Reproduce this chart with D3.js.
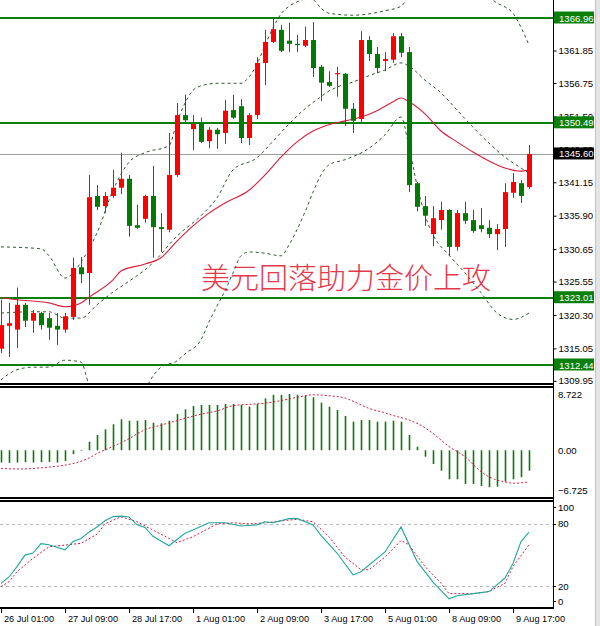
<!DOCTYPE html>
<html>
<head>
<meta charset="utf-8">
<script src="https://cdn.jsdelivr.net/npm/d3@7"></script>
<style>
  body { margin: 0; background: #fff; }
  svg { display: block; }
  text { font-family: "Liberation Sans", Arial, sans-serif; }
</style>
</head>
<body>
<div id="chart"></div>
<script>
// ---- data (4H gold, 26 Jul - 9 Aug) ----
var opens  = [1315.0,1318.6,1318.0,1321.9,1319.4,1320.6,1319.8,1318.6,1318.0,1320.0,1327.8,1326.9,1339.0,1337.4,1339.0,1340.3,1341.7,1334.4,1335.4,1339.0,1334.1,1333.7,1342.3,1351.7,1349.5,1350.5,1347.6,1349.4,1348.9,1352.5,1353.1,1348.1,1351.7,1359.9,1363.2,1365.1,1363.4,1362.9,1362.6,1363.5,1359.3,1356.9,1358.2,1358.2,1352.7,1351.1,1363.5,1361.3,1360.2,1360.4,1364.1,1361.6,1341.0,1337.4,1333.0,1335.2,1336.8,1331.0,1336.3,1335.2,1334.4,1334.0,1333.0,1333.8,1339.5,1341.0,1340.4];
var highs  = [1322.7,1322.2,1324.6,1322.2,1321.1,1320.8,1320.6,1320.6,1320.6,1329.3,1329.4,1342.3,1340.7,1339.6,1343.1,1345.8,1342.3,1337.6,1339.2,1343.7,1336.3,1348.9,1353.6,1354.9,1351.7,1351.3,1349.8,1349.7,1354.1,1354.9,1354.2,1352.0,1360.8,1365.1,1367.1,1365.9,1366.2,1364.3,1365.6,1366.3,1359.6,1358.6,1359.3,1358.3,1353.6,1364.9,1364.1,1362.4,1361.6,1364.6,1364.6,1362.4,1341.2,1339.0,1337.4,1338.1,1336.9,1336.8,1338.1,1336.8,1337.1,1335.2,1334.6,1341.0,1342.6,1341.5,1347.0];
var lows   = [1314.3,1313.7,1315.1,1318.4,1317.5,1318.0,1316.4,1315.6,1317.5,1319.5,1325.3,1321.9,1336.8,1336.3,1338.7,1339.3,1332.6,1333.8,1334.8,1329.3,1330.2,1333.3,1342.0,1350.5,1346.2,1347.3,1346.5,1346.4,1347.2,1351.1,1347.3,1347.0,1351.1,1356.4,1363.0,1361.6,1361.6,1361.6,1362.4,1357.7,1353.9,1356.1,1354.6,1350.0,1348.9,1350.6,1360.2,1358.3,1358.6,1359.9,1360.8,1339.6,1336.6,1334.3,1331.1,1333.7,1329.6,1330.4,1334.6,1333.2,1333.3,1332.4,1330.5,1331.0,1338.7,1337.9,1340.1];
var closes = [1318.7,1319.0,1321.9,1319.4,1320.6,1318.7,1318.3,1318.0,1320.1,1327.7,1326.7,1338.8,1337.3,1339.0,1340.3,1341.7,1334.3,1334.0,1339.0,1334.1,1333.8,1342.3,1351.7,1350.9,1350.3,1347.5,1349.4,1348.7,1352.4,1351.3,1348.1,1351.7,1359.9,1363.2,1365.2,1361.8,1362.9,1362.7,1363.5,1359.1,1356.8,1356.3,1358.3,1352.7,1350.8,1363.5,1361.3,1359.1,1360.5,1364.1,1361.5,1340.7,1337.3,1335.9,1335.5,1336.8,1331.0,1336.3,1335.1,1333.5,1333.8,1333.0,1333.8,1339.6,1341.2,1339.0,1345.6];

// band lines, [bar index, price]
var upperBand = [[0,1331.0],[5,1330.7],[6,1329.6],[8,1326.1],[9,1326.9],[10,1328.6],[11,1330.7],[12,1333.2],[14,1339.9],[16,1344.3],[18,1345.8],[21,1346.9],[22,1350.6],[23,1353.6],[24,1355.6],[25,1356.3],[27,1356.7],[30,1356.7],[31,1357.7],[32,1359.7],[33,1362.7],[34,1365.4],[35,1367.6],[36,1368.8],[37,1369.5],[38,1369.9],[39,1369.8],[40,1368.5],[41,1367.7],[44,1367.4],[48,1368.1],[50,1368.8],[51,1370.3],[53,1372.5],[56,1373.5],[59,1372.0],[61,1370.3],[62,1369.3],[63,1368.7],[64,1367.7],[65,1365.5],[66,1362.7]];
var innerLine = [[0,1320.6],[4,1320.8],[6,1320.8],[8,1319.8],[10,1319.8],[12,1321.9],[14,1323.9],[16,1325.6],[18,1327.4],[19,1328.5],[22,1332.7],[25,1335.9],[27,1338.7],[29,1343.1],[32,1345.0],[34,1347.6],[36,1350.3],[38,1352.7],[40,1354.6],[41,1355.5],[42,1356.1],[44,1356.9],[46,1357.9],[48,1358.8],[50,1359.9],[51,1359.4],[53,1357.2],[55,1355.2],[57,1352.5],[59,1349.8],[61,1347.3],[63,1345.1],[65,1343.4],[66,1342.6]];
var maLine = [[0,1323.0],[2,1322.7],[6,1322.2],[8,1321.6],[10,1322.2],[11,1323.1],[14,1325.8],[15,1327.2],[18,1328.3],[20,1329.3],[22,1331.9],[24,1334.3],[26,1336.3],[28,1337.9],[31,1339.9],[33,1342.3],[35,1345.1],[37,1347.5],[39,1349.2],[41,1350.2],[43,1350.8],[45,1351.4],[47,1352.4],[49,1353.8],[50,1354.4],[51,1353.8],[53,1351.9],[55,1349.2],[57,1347.5],[59,1345.9],[61,1344.5],[63,1343.4],[65,1342.9],[66,1343.1]];
var lowerBand = [[0,1310.1],[2,1311.7],[4,1312.1],[6,1312.1],[8,1313.2],[10,1312.9],[11,1309.3],[13,1305.5],[16,1305.0],[18,1308.5],[19,1310.7],[20,1312.1],[22,1313.1],[23,1314.2],[25,1316.4],[26,1319.2],[27,1321.7],[28,1324.1],[29,1326.9],[30,1329.6],[31,1330.2],[33,1330.0],[35,1329.6],[36,1331.3],[37,1333.7],[38,1336.5],[39,1339.6],[40,1342.3],[41,1343.9],[43,1344.7],[46,1346.5],[48,1348.6],[50,1351.4],[51,1346.7],[52,1340.7],[53,1336.0],[54,1332.9],[56,1329.7],[58,1326.9],[60,1323.8],[62,1320.6],[64,1319.6],[66,1320.6]];

var levelLines = [1366.96, 1350.49, 1323.01, 1312.44];
var lastPrice = 1345.60;
var priceTicks = [1361.85, 1356.75, 1351.50, 1346.35, 1341.15, 1335.90, 1330.65, 1325.55, 1320.30, 1315.05, 1309.95];

var macdHist = [-1.9,-1.95,-1.9,-1.85,-1.9,-1.85,-1.8,-1.9,-1.65,-0.6,-0.1,1.33,2.37,3.25,4.03,4.80,4.59,4.59,4.69,4.28,4.18,4.59,5.62,6.35,6.86,7.02,7.02,7.02,7.17,7.17,7.02,6.76,7.17,8.05,8.6,8.6,8.72,8.6,8.41,8.21,7.38,6.76,6.24,5.31,4.44,4.69,4.69,4.44,4.44,4.59,4.44,2.37,0.57,-0.99,-2.12,-3.16,-4.50,-4.50,-5.22,-5.22,-5.53,-5.73,-5.63,-4.86,-4.50,-4.18,-3.16];
var macdSignal = [[0,-2.8],[2,-2.9],[6,-2.6],[8,-2.3],[11,-1.2],[12,-0.5],[14,0.6],[16,1.8],[18,3.2],[20,3.9],[22,4.6],[25,5.6],[27,6.1],[29,6.9],[32,7.2],[33,7.3],[35,7.7],[37,8.2],[39,8.6],[41,8.45],[43,8.1],[44,7.6],[46,6.5],[48,5.8],[49,5.4],[51,4.7],[53,3.5],[54,2.6],[56,0.6],[58,-1.0],[60,-3.3],[61,-4.1],[63,-4.9],[64,-5.1],[66,-4.9]];
var macdTicks = [8.722, 0, -6.725];

var stochMain = [[0,22.9],[1,29],[2,39],[3,50],[4,52],[5,61],[6,60],[8,55],[9,63],[10,66],[11,72],[12,77],[13,83],[14,87],[15,87.4],[16,86.5],[17,79],[18,76.6],[19,68],[21,59],[23,71],[24,74],[26,81],[28,81],[30,78],[32,79],[33,82],[34,81],[36,85],[37,85.2],[39,79],[40,69],[42,52],[44,31],[45,34],[48,53],[50,77],[52,44],[54,24],[56,8],[57,11],[60,14],[61,15],[63,28],[64,42],[65,63],[66,72]];
var stochSignal = [[0,19.7],[1,24.4],[2,34],[4,47],[6,58],[8,59.6],[10,61.3],[12,70],[13,80],[15,86.8],[17,82],[19,74],[22,62],[24,67.6],[27,80],[29,81],[31,80],[33,81],[36,83.6],[37,84.3],[39,82],[41,67.6],[43,48],[45,36],[46,36],[48,48],[50,64],[51,60],[53,39],[55,23],[56,13],[59,13],[61,15],[63,23],[64,39],[66,60]];
var stochLevels = [80, 20];
var stochTicks = [100, 80, 20, 0];

var timeLabels = ["26 Jul 01:00","27 Jul 09:00","28 Jul 17:00","1 Aug 01:00","2 Aug 09:00","3 Aug 17:00","5 Aug 01:00","8 Aug 09:00","9 Aug 17:00"];
var labelEvery = 8;  // one time label every 8 bars

var titleText = "美元回落助力金价上攻";

// ---- layout ----
var width = 600, height = 626;
var axisX = 553;  // right price axis

var svg = d3.select("#chart").append("svg")
    .attr("width", width)
    .attr("height", height);

var x = d3.scaleLinear().domain([0, 66]).range([1, 529]);
var y = d3.scaleLinear().domain([1312.44, 1366.96]).range([365, 18]);
var yM = d3.scaleLinear().domain([-6.725, 8.722]).range([493.7, 394]);
var yS = d3.scaleLinear().domain([0, 100]).range([607.2, 503]);

var defs = svg.append("defs");
function clip(id, y0, y1) {
    defs.append("clipPath").attr("id", id)
        .append("rect").attr("x", 0).attr("y", y0).attr("width", axisX).attr("height", y1 - y0);
}
clip("cMain", 0, 384);
clip("cMacd", 387, 498);
clip("cStoch", 501, 608);

var main = svg.append("g").attr("clip-path", "url(#cMain)");

// horizontal levels
main.selectAll("line.level").data(levelLines).enter().append("line")
    .attr("x1", 0).attr("x2", axisX)
    .attr("y1", function(d) { return Math.round(y(d)); })
    .attr("y2", function(d) { return Math.round(y(d)); })
    .attr("stroke", "#0a800a").attr("stroke-width", 2.2);

main.append("line")
    .attr("x1", 0).attr("x2", axisX)
    .attr("y1", Math.round(y(lastPrice)) + 0.5).attr("y2", Math.round(y(lastPrice)) + 0.5)
    .attr("stroke", "#a0a0a0").attr("stroke-width", 1);

// text
main.append("text")
    .attr("x", 201).attr("y", 289)
    .attr("fill", "#e3394b")
    .attr("font-size", 29)
    .style("font-family", "'Noto Sans CJK SC', sans-serif")
    .style("font-weight", 300)
    .text(titleText);

// bands and MA
var pLine = d3.line().x(function(d) { return x(d[0]); }).y(function(d) { return y(d[1]); }).curve(d3.curveMonotoneX);
[upperBand, innerLine, lowerBand].forEach(function(b) {
    main.append("path").attr("d", pLine(b))
        .attr("fill", "none").attr("stroke", "#2f5a2f").attr("stroke-width", 1)
        .attr("stroke-dasharray", "3,3");
});
main.append("path").attr("d", pLine(maLine))
    .attr("fill", "none").attr("stroke", "#d81e3c").attr("stroke-width", 1.1);

// candles
var candles = d3.range(opens.length).map(function(i) {
    return { i: i, o: opens[i], h: highs[i], l: lows[i], c: closes[i] };
});
var cg = main.selectAll("g.candle").data(candles).enter().append("g").attr("class", "candle");
function col(d) { return d.c >= d.o ? "#ff0000" : "#007a00"; }
cg.append("line")
    .attr("x1", function(d) { return Math.round(x(d.i)) + 0.5; })
    .attr("x2", function(d) { return Math.round(x(d.i)) + 0.5; })
    .attr("y1", function(d) { return y(d.h); })
    .attr("y2", function(d) { return y(d.l); })
    .attr("stroke", col).attr("stroke-width", 1);
cg.append("rect")
    .attr("x", function(d) { return Math.round(x(d.i)) - 2; })
    .attr("width", 5)
    .attr("y", function(d) { return y(Math.max(d.o, d.c)); })
    .attr("height", function(d) { return Math.max(1.2, Math.abs(y(d.o) - y(d.c))); })
    .attr("fill", col);

// ---- MACD ----
var macd = svg.append("g").attr("clip-path", "url(#cMacd)");
macd.selectAll("line.h").data(macdHist).enter().append("line")
    .attr("x1", function(d, i) { return Math.round(x(i)) + 0.5; })
    .attr("x2", function(d, i) { return Math.round(x(i)) + 0.5; })
    .attr("y1", yM(0))
    .attr("y2", function(d) { return yM(d); })
    .attr("stroke", "#0a7a0a").attr("stroke-width", 1.6);
var mLine = d3.line().x(function(d) { return x(d[0]); }).y(function(d) { return yM(d[1]); }).curve(d3.curveMonotoneX);
macd.append("path").attr("d", mLine(macdSignal))
    .attr("fill", "none").attr("stroke", "#d81e3c").attr("stroke-width", 1)
    .attr("stroke-dasharray", "2,2");

// ---- Stochastic ----
var st = svg.append("g").attr("clip-path", "url(#cStoch)");
st.selectAll("line.lv").data(stochLevels).enter().append("line")
    .attr("x1", 0).attr("x2", axisX)
    .attr("y1", function(d) { return Math.round(yS(d)) + 0.5; })
    .attr("y2", function(d) { return Math.round(yS(d)) + 0.5; })
    .attr("stroke", "#b8b8b8").attr("stroke-dasharray", "3,3");
var sLine = d3.line().x(function(d) { return x(d[0]); }).y(function(d) { return yS(d[1]); });
st.append("path").attr("d", sLine(stochSignal))
    .attr("fill", "none").attr("stroke", "#d81e3c").attr("stroke-width", 1)
    .attr("stroke-dasharray", "2,2");
st.append("path").attr("d", sLine(stochMain))
    .attr("fill", "none").attr("stroke", "#20a8a0").attr("stroke-width", 1.1);

// ---- frames ----
var frame = svg.append("g").attr("stroke", "#000").attr("shape-rendering", "crispEdges");
[384, 387, 498, 501, 608].forEach(function(yy) {
    frame.append("line").attr("x1", 0).attr("x2", axisX).attr("y1", yy).attr("y2", yy).attr("stroke-width", 1.5);
});
frame.append("line").attr("x1", axisX + 0.5).attr("x2", axisX + 0.5).attr("y1", 0).attr("y2", 609);

// ---- price axis ----
var fontSz = 9.6;
var axP = svg.append("g").attr("transform", "translate(" + (axisX + 0.5) + ",0)")
    .call(d3.axisRight(y).tickValues(priceTicks).tickSize(3).tickSizeOuter(0).tickFormat(d3.format(".2f")));
axP.select(".domain").remove();
axP.selectAll("text").attr("font-size", fontSz).attr("fill", "#000").attr("x", 5).style("font-family", "'Liberation Sans', Arial, sans-serif");
axP.selectAll("line").attr("stroke", "#000");

// highlighted price boxes
var boxes = levelLines.map(function(v) { return { v: v, bg: "#0a800a" }; });
boxes.push({ v: lastPrice, bg: "#000" });
var bx = svg.selectAll("g.box").data(boxes).enter().append("g");
bx.append("rect")
    .attr("x", axisX + 1).attr("width", 40)
    .attr("y", function(d) { return y(d.v) - 6.5; })
    .attr("height", 12)
    .attr("fill", function(d) { return d.bg; });
bx.append("text")
    .attr("x", axisX + 6).attr("y", function(d) { return y(d.v) + 3.5; })
    .attr("font-size", fontSz).attr("fill", "#fff")
    .text(function(d) { return d3.format(".2f")(d.v); });

// MACD labels
var macdOff = { "8.722": 0, "0": 0, "-6.725": -3 };
svg.selectAll("text.ml").data(macdTicks).enter().append("text")
    .attr("x", axisX + 5)
    .attr("y", function(d) { return yM(d) + 3.5 + macdOff[String(d)]; })
    .attr("font-size", fontSz)
    .text(function(d) { return d === 0 ? "0.00" : d3.format(".3f")(d); });

// stochastic labels
var stOff = { "100": 4, "80": 0, "20": 0, "0": -6 };
svg.selectAll("text.sl").data(stochTicks).enter().append("text")
    .attr("x", axisX + 5)
    .attr("y", function(d) { return yS(d) + 3.5 + stOff[String(d)]; })
    .attr("font-size", fontSz)
    .text(function(d) { return d; });
svg.selectAll("line.st").data(stochTicks).enter().append("line")
    .attr("x1", axisX).attr("x2", axisX + 3)
    .attr("y1", function(d) { return Math.round(yS(d) + stOff[String(d)]) + 0.5; })
    .attr("y2", function(d) { return Math.round(yS(d) + stOff[String(d)]) + 0.5; })
    .attr("stroke", "#000");

// ---- time axis ----
var tg = svg.selectAll("g.t").data(timeLabels).enter().append("g")
    .attr("transform", function(d, i) { return "translate(" + Math.round(x(i * labelEvery)) + ",0)"; });
tg.append("line").attr("x1", 0.5).attr("x2", 0.5).attr("y1", 608).attr("y2", 613).attr("stroke", "#000");
tg.append("text").attr("x", 3).attr("y", 621.5).attr("font-size", 9.2).text(function(d) { return d; });

// window edge on the right
svg.append("rect").attr("x", 595).attr("y", 0).attr("width", 5).attr("height", height).attr("fill", "#e4e4e4");
svg.append("line").attr("x1", 595.5).attr("x2", 595.5).attr("y1", 0).attr("y2", height).attr("stroke", "#c4c4c4");
</script>
</body>
</html>
